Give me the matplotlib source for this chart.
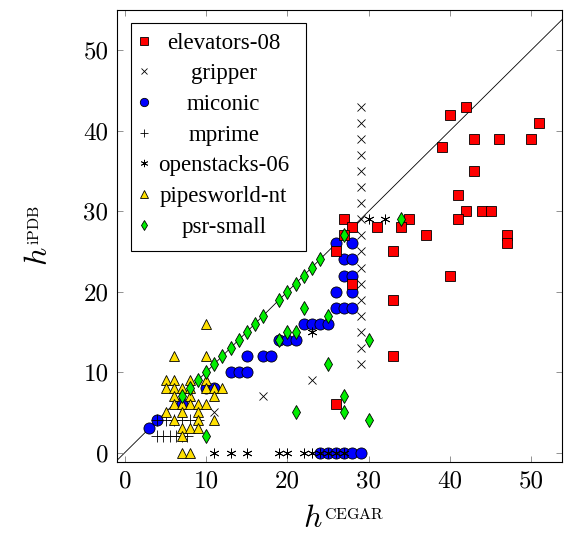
import matplotlib
matplotlib.use('Agg')
import matplotlib.pyplot as plt

plt.rcParams['font.family'] = ['Liberation Serif', 'DejaVu Serif']
plt.rcParams['mathtext.fontset'] = 'cm'

# h^CEGAR (x) against h^iPDB (y), per domain
elev_x = [42, 40, 51, 39, 43, 46, 50, 43, 41, 42, 44, 45, 41, 35, 34, 37, 47, 47,
          33, 40, 33, 33, 31, 27, 28, 27, 26, 28, 26]
elev_y = [43, 42, 41, 38, 39, 39, 39, 35, 32, 30, 30, 30, 29, 29, 28, 27, 27, 26,
          25, 22, 19, 12, 28, 29, 28, 27, 25, 21, 6]

grip_x = [29, 29, 29, 29, 29, 29, 29, 29, 29, 29, 29, 29, 29, 29, 29, 29, 29,
          23, 17, 11]
grip_y = [43, 41, 39, 37, 35, 33, 31, 29, 27, 25, 23, 21, 19, 17, 15, 13, 11,
          9, 7, 5]

mico_x = [3, 4, 7, 10, 11, 13, 14, 15, 15, 17, 18, 19, 20, 21, 22, 23, 24, 25,
          26, 27, 28, 26, 28, 27, 28, 27, 28, 26, 28, 24, 25, 26, 27, 28, 29]
mico_y = [3, 4, 6, 8, 8, 10, 10, 10, 12, 12, 12, 14, 14, 14, 16, 16, 16, 16,
          18, 18, 18, 20, 20, 22, 22, 24, 24, 26, 26, 0, 0, 0, 0, 0, 0]

mpri_x = [4, 4.7, 5.5, 6.3, 7, 7.7, 4, 5, 6, 7, 8, 9]
mpri_y = [2, 2, 2, 2, 2, 2, 4, 4, 4, 4, 4, 4]

open_x = [11, 13, 15, 19, 20, 22, 23, 24, 25, 26, 27, 23, 30, 32]
open_y = [0, 0, 0, 0, 0, 0, 0, 0, 0, 0, 0, 15, 29, 29]

pipe_x = [10, 6, 10, 5, 6, 8, 10, 5, 6, 7, 8, 10, 11, 12, 6, 8, 11,
          6, 7, 8, 9, 10, 5, 7, 9, 6, 9, 11, 7, 8, 9, 7, 7, 8]
pipe_y = [16, 12, 12, 9, 9, 9, 9, 8, 8, 8, 8, 8, 8, 8, 7, 7, 7,
          6, 6, 6, 6, 6, 5, 5, 5, 4, 4, 4, 3, 3, 3, 2, 0, 0]

psr_x = [7, 8, 9, 10, 11, 12, 13, 14, 15, 16, 17, 19, 20, 21, 22, 23, 24, 27,
         10, 19, 20, 21, 22, 25, 25, 27, 27, 21, 30, 30, 34]
psr_y = [7, 8, 9, 10, 11, 12, 13, 14, 15, 16, 17, 19, 20, 21, 22, 23, 24, 27,
         2, 14, 15, 15, 18, 17, 11, 7, 5, 5, 14, 4, 29]

ticks = [0, 10, 20, 30, 40, 50]

fig = plt.figure(figsize=(5.64, 5.35), dpi=100)
ax = fig.add_axes([0.207, 0.136, 0.7895, 0.8453])

ax.plot([-5, 60], [-5, 60], color='black', lw=0.6, zorder=1)

ew = 0.6
ax.plot(mico_x, mico_y, 'o', ms=8, mfc='#0000ff', mec='black', mew=ew,
        zorder=2, label='miconic')
ax.plot(elev_x, elev_y, 's', ms=7.6, mfc='#ff0000', mec='black', mew=ew,
        zorder=3, label='elevators-08')
ax.plot(grip_x, grip_y, 'x', ms=5.5, color='black', mew=0.6, zorder=4,
        label='gripper')
ax.plot(mpri_x, mpri_y, '+', ms=8, color='black', mew=0.6, zorder=4,
        label='mprime')
ax.plot(open_x, open_y, marker=(6, 2, 0), ls='none', ms=7, color='black',
        mew=0.6, zorder=4, label='openstacks-06')
ax.plot(pipe_x, pipe_y, '^', ms=7.5, mfc='#ffe000', mec='black', mew=ew,
        zorder=5, label='pipesworld-nt')
ax.plot(psr_x, psr_y, 'd', ms=7, mfc='#00ee00', mec='black', mew=ew,
        zorder=6, label='psr-small')

ax.set_xlim(-1, 53.8)
ax.set_ylim(-1.2, 55)
ax.set_xticks(ticks)
ax.set_yticks(ticks)
ax.set_xticklabels([str(t) for t in ticks], fontfamily='cmr10')
ax.set_yticklabels([str(t) for t in ticks], fontfamily='cmr10')
ax.tick_params(direction='in', length=4, width=0.6, color='#808080',
               top=True, right=True, labelsize=18, pad=6)
for s in ax.spines.values():
    s.set_linewidth(0.8)

# axis labels: big italic h with a small roman superscript (as in LaTeX)
ax.set_xlabel(r'$h$', fontsize=23)
ax.xaxis.set_label_coords(0.44, -0.095)
ax.annotate(r'$\mathrm{CEGAR}$', xy=(1, 1), xycoords=ax.xaxis.label,
            xytext=(1, -1.5), textcoords='offset points', fontsize=11.5,
            ha='left', va='top')
ax.set_ylabel(r'$h$', fontsize=23)
ax.yaxis.set_label_coords(-0.141, 0.455)
ax.annotate(r'$\mathrm{iPDB}$', xy=(0, 1), xycoords=ax.yaxis.label,
            xytext=(1.5, 1), textcoords='offset points', fontsize=11.5,
            rotation=90, rotation_mode='anchor', ha='left', va='top')

handles, labels = ax.get_legend_handles_labels()
order = ['elevators-08', 'gripper', 'miconic', 'mprime', 'openstacks-06',
         'pipesworld-nt', 'psr-small']
hl = dict(zip(labels, handles))
leg = ax.legend([hl[k] for k in order], order, loc='upper left',
                bbox_to_anchor=(0.032, 0.971), borderaxespad=0,
                fontsize=16.5, markerscale=0.75, handlelength=0.6,
                handletextpad=0.3, labelspacing=0.42, borderpad=0.5,
                fancybox=False, framealpha=1, edgecolor='black')
leg.get_frame().set_linewidth(0.8)

# pgfplots centres the legend entries, so shift the labels to match;
# also nudge the entries up/left a little inside the frame
fig.canvas.draw()
renderer = fig.canvas.get_renderer()
texts = leg.get_texts()
widths = [t.get_window_extent(renderer).width for t in texts]
wmax = max(widths)
dx_px, dy_px = -5, 2
for t, w in zip(texts, widths):
    t.set_x((wmax - w) / 2 + dx_px)
    t.set_y(dy_px)
pt = 72 / fig.dpi
for h in leg.legend_handles:
    h.set_xdata([x + dx_px * pt for x in h.get_xdata()])
    h.set_ydata([y + dy_px * pt for y in h.get_ydata()])

fig.savefig('out.png', dpi=100)
